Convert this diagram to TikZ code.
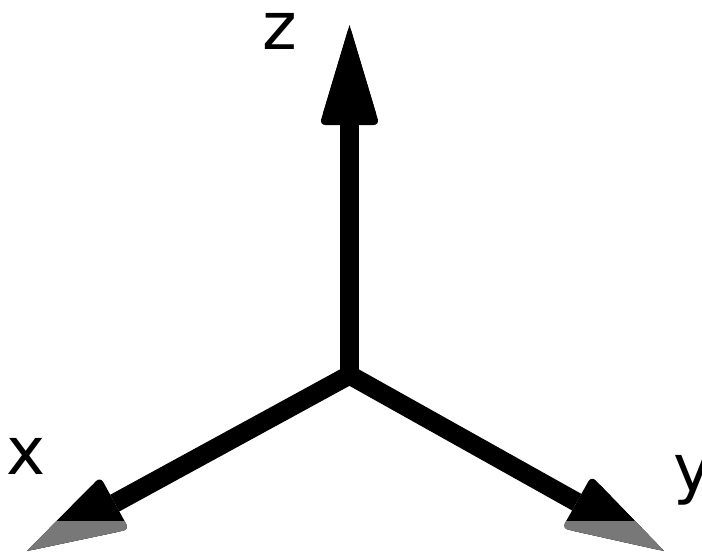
\documentclass[tikz,border=0pt]{standalone}
\usepackage{fontspec}
\setmainfont{DejaVu Sans}
\usetikzlibrary{calc}
\definecolor{headgray}{RGB}{120,120,120}
\tikzset{
  axisline/.style={line width=19pt, line join=miter, black},
  axislabel/.style={inner sep=0pt, font=\fontsize{66}{66}\selectfont},
}
\newcommand{\arrowheadshape}[3]{%
  % #1 tip, #2 origin, #3 colour
  \coordinate (B) at ($(#1)!100pt!(#2)$);
  \coordinate (L) at ($(B)!30pt!90:(#1)$);
  \coordinate (R) at ($(B)!30pt!-90:(#1)$);
  \fill[#3, rounded corners=6pt] (#1) -- (L) -- (R) -- cycle;
  \fill[#3] (#1) -- ($(L)!12pt!(#1)$) -- ($(R)!12pt!(#1)$) -- cycle;
}
\begin{document}
\begin{tikzpicture}[x=1pt, y=-1pt]
\clip (0,0) rectangle (702,552);
\fill[white] (0,0) rectangle (702,552);
\coordinate (O) at (349.5,375);
\coordinate (Zt) at (349.5,25);
\coordinate (Xt) at (27,551);
\coordinate (Yt) at (664,551);
\coordinate (Bz) at ($(Zt)!100pt!(O)$);
\coordinate (Bx) at ($(Xt)!100pt!(O)$);
\coordinate (By) at ($(Yt)!100pt!(O)$);
% shafts
\draw[axisline] (Bx) -- (O) -- (By);
\draw[axisline] (O) -- (Bz);
% heads
\arrowheadshape{Zt}{O}{black}
\arrowheadshape{Xt}{O}{black}
\arrowheadshape{Yt}{O}{black}
% grey lower band on the heads
\begin{scope}
  \clip (0,521) rectangle (702,560);
  \arrowheadshape{Xt}{O}{headgray}
  \arrowheadshape{Yt}{O}{headgray}
\end{scope}
% labels
\node[axislabel, anchor=base] (zl) at (280,49) {z};
\node[axislabel, anchor=base] (xl) at (26,474) {x};
\node[axislabel, anchor=base west] (yl) at (673,491) {y};
\end{tikzpicture}
\end{document}
